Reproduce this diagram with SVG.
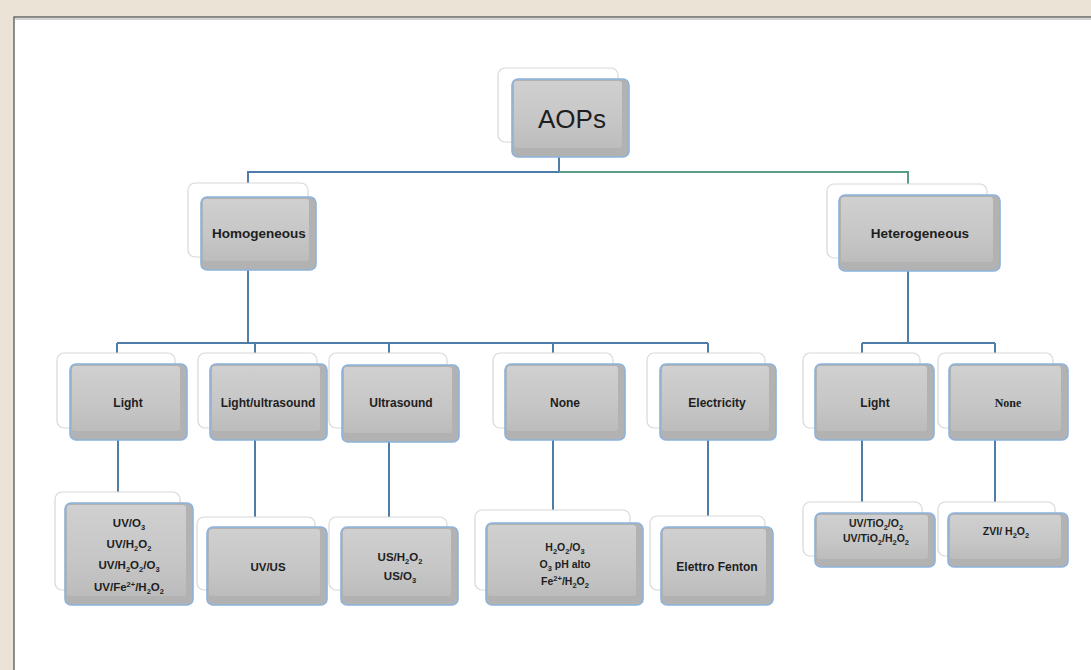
<svg xmlns="http://www.w3.org/2000/svg" width="1091" height="670" viewBox="0 0 1091 670">
<defs>
<linearGradient id="g" x1="0" y1="0" x2="0" y2="1">
<stop offset="0" stop-color="#D0D0D0"/>
<stop offset="0.6" stop-color="#C6C6C6"/>
<stop offset="1" stop-color="#BCBCBC"/>
</linearGradient>
<style>
.back{fill:#FFFFFF;stroke:#D8D8D8;stroke-width:1.2}
.front{fill:#B2B2B2;stroke:#8DB3DC;stroke-width:1.6}
.inner{fill:url(#g)}
.c{fill:none;stroke:#4F7DAA;stroke-width:2}
.cg{fill:none;stroke:#5A9C8A;stroke-width:2}
text{font-family:"Liberation Sans",Arial,sans-serif;font-weight:bold;fill:#1E1E1E;text-anchor:middle}
.t1{font-size:26px;font-weight:normal}
.t2{font-size:13.5px}
.t3{font-size:12px}
.t4{font-size:11.5px}
.t5{font-size:10.5px}
.s{font-size:7.5px}
</style>
</defs>
<rect x="0" y="0" width="1091" height="670" fill="#EBE3D5"/>
<rect x="14" y="17" width="1100" height="700" fill="#FFFFFF" stroke="#4A4A4A" stroke-width="1.2"/>
<line x1="15" y1="19" x2="1091" y2="19" stroke="#A8A8A8" stroke-width="1"/>

<g id="connectors">
<path class="c" d="M559 157V172M247 172H559M248 172V197"/>
<path class="cg" d="M559 172H908V195"/>
<path class="c" d="M248 270V343M117 343H708M117 343V364M255 343V364M389 343V365M553 343V364M708 343V364"/>
<path class="c" d="M908 271V343M862 343H995M862 343V364M995 343V364"/>
<path class="c" d="M118 440V503M255 440V527M389 442V527M553 440V523M708 440V527M862 440V513M995 440V513"/>
</g>

<g id="aops">
<rect class="back" x="498" y="68" width="120" height="74" rx="7"/>
<rect class="front" x="512" y="79" width="117" height="78" rx="6"/>
<rect class="inner" x="514" y="81" width="108" height="67" rx="3"/>
<text class="t1" x="572" y="128">AOPs</text>
</g>

<g id="homogeneous">
<rect class="back" x="188" y="183" width="120" height="74" rx="7"/>
<rect class="front" x="201" y="197" width="115" height="73" rx="6"/>
<rect class="inner" x="203" y="199" width="106" height="62" rx="3"/>
<text class="t2" x="259" y="238">Homogeneous</text>
</g>

<g id="heterogeneous">
<rect class="back" x="827" y="184" width="160" height="74" rx="7"/>
<rect class="front" x="839" y="195" width="161" height="76" rx="6"/>
<rect class="inner" x="841" y="197" width="152" height="65" rx="3"/>
<text class="t2" x="920" y="238">Heterogeneous</text>
</g>

<g id="light">
<rect class="back" x="57" y="353" width="118" height="75" rx="7"/>
<rect class="front" x="70" y="364" width="117" height="76" rx="6"/>
<rect class="inner" x="72" y="366" width="108" height="65" rx="3"/>
<text class="t3" x="128" y="407">Light</text>
</g>

<g id="light-ultrasound">
<rect class="back" x="198" y="353" width="119" height="75" rx="7"/>
<rect class="front" x="210" y="364" width="117" height="76" rx="6"/>
<rect class="inner" x="212" y="366" width="108" height="65" rx="3"/>
<text class="t3" x="268" y="407">Light/ultrasound</text>
</g>

<g id="ultrasound">
<rect class="back" x="329" y="353" width="118" height="75" rx="7"/>
<rect class="front" x="342" y="365" width="117" height="77" rx="6"/>
<rect class="inner" x="344" y="367" width="108" height="66" rx="3"/>
<text class="t3" x="401" y="407">Ultrasound</text>
</g>

<g id="none">
<rect class="back" x="493" y="353" width="120" height="75" rx="7"/>
<rect class="front" x="505" y="364" width="120" height="76" rx="6"/>
<rect class="inner" x="507" y="366" width="111" height="65" rx="3"/>
<text class="t3" x="565" y="407">None</text>
</g>

<g id="electricity">
<rect class="back" x="647" y="353" width="118" height="75" rx="7"/>
<rect class="front" x="660" y="364" width="116" height="76" rx="6"/>
<rect class="inner" x="662" y="366" width="107" height="65" rx="3"/>
<text class="t3" x="717" y="407">Electricity</text>
</g>

<g id="het-light">
<rect class="back" x="803" y="353" width="117" height="75" rx="7"/>
<rect class="front" x="815" y="364" width="119" height="76" rx="6"/>
<rect class="inner" x="817" y="366" width="110" height="65" rx="3"/>
<text class="t3" x="875" y="407">Light</text>
</g>

<g id="het-none">
<rect class="back" x="938" y="353" width="115" height="75" rx="7"/>
<rect class="front" x="949" y="364" width="119" height="76" rx="6"/>
<rect class="inner" x="951" y="366" width="110" height="65" rx="3"/>
<text class="t3" x="1008" y="407" style="font-family:'Liberation Serif','Times New Roman',serif">None</text>
</g>

<g id="leaf-light">
<rect class="back" x="55" y="492" width="125" height="98" rx="7"/>
<rect class="front" x="65" y="503" width="128" height="102" rx="6"/>
<rect class="inner" x="67" y="505" width="119" height="91" rx="3"/>
<text class="t4" x="129" y="527">UV/O<tspan class="s" dy="3">3</tspan></text>
<text class="t4" x="129" y="548">UV/H<tspan class="s" dy="3">2</tspan><tspan dy="-3">O</tspan><tspan class="s" dy="3">2</tspan></text>
<text class="t4" x="129" y="569">UV/H<tspan class="s" dy="3">2</tspan><tspan dy="-3">O</tspan><tspan class="s" dy="3">2</tspan><tspan dy="-3">/O</tspan><tspan class="s" dy="3">3</tspan></text>
<text class="t4" x="129" y="591">UV/Fe<tspan class="s" dy="-4">2+</tspan><tspan dy="4">/H</tspan><tspan class="s" dy="3">2</tspan><tspan dy="-3">O</tspan><tspan class="s" dy="3">2</tspan></text>
</g>

<g id="leaf-uvus">
<rect class="back" x="197" y="517" width="118" height="73" rx="7"/>
<rect class="front" x="207" y="527" width="120" height="78" rx="6"/>
<rect class="inner" x="209" y="529" width="111" height="67" rx="3"/>
<text class="t4" x="268" y="571">UV/US</text>
</g>

<g id="leaf-us">
<rect class="back" x="329" y="517" width="118" height="73" rx="7"/>
<rect class="front" x="341" y="527" width="117" height="78" rx="6"/>
<rect class="inner" x="343" y="529" width="108" height="67" rx="3"/>
<text class="t4" x="400" y="561">US/H<tspan class="s" dy="3">2</tspan><tspan dy="-3">O</tspan><tspan class="s" dy="3">2</tspan></text>
<text class="t4" x="400" y="580">US/O<tspan class="s" dy="3">3</tspan></text>
</g>

<g id="leaf-none">
<rect class="back" x="475" y="510" width="155" height="80" rx="7"/>
<rect class="front" x="486" y="523" width="157" height="82" rx="6"/>
<rect class="inner" x="488" y="525" width="148" height="71" rx="3"/>
<text class="t5" x="565" y="551">H<tspan class="s" dy="3">2</tspan><tspan dy="-3">O</tspan><tspan class="s" dy="3">2</tspan><tspan dy="-3">/O</tspan><tspan class="s" dy="3">3</tspan></text>
<text class="t5" x="565" y="568">O<tspan class="s" dy="3">3</tspan><tspan dy="-3"> pH alto</tspan></text>
<text class="t5" x="565" y="585">Fe<tspan class="s" dy="-4">2+</tspan><tspan dy="4">/H</tspan><tspan class="s" dy="3">2</tspan><tspan dy="-3">O</tspan><tspan class="s" dy="3">2</tspan></text>
</g>

<g id="leaf-fenton">
<rect class="back" x="650" y="516" width="115" height="74" rx="7"/>
<rect class="front" x="661" y="527" width="112" height="78" rx="6"/>
<rect class="inner" x="663" y="529" width="103" height="67" rx="3"/>
<text class="t3" x="717" y="571">Elettro Fenton</text>
</g>

<g id="leaf-tio2">
<rect class="back" x="803" y="502" width="119" height="54" rx="7"/>
<rect class="front" x="815" y="513" width="120" height="54" rx="6"/>
<rect class="inner" x="817" y="515" width="111" height="44" rx="3"/>
<text class="t5" x="876" y="527">UV/TiO<tspan class="s" dy="3">2</tspan><tspan dy="-3">/O</tspan><tspan class="s" dy="3">2</tspan></text>
<text class="t5" x="876" y="542">UV/TiO<tspan class="s" dy="3">2</tspan><tspan dy="-3">/H</tspan><tspan class="s" dy="3">2</tspan><tspan dy="-3">O</tspan><tspan class="s" dy="3">2</tspan></text>
</g>

<g id="leaf-zvi">
<rect class="back" x="938" y="502" width="117" height="54" rx="7"/>
<rect class="front" x="948" y="513" width="120" height="54" rx="6"/>
<rect class="inner" x="950" y="515" width="111" height="44" rx="3"/>
<text class="t5" x="1006" y="535">ZVI/ H<tspan class="s" dy="3">2</tspan><tspan dy="-3">O</tspan><tspan class="s" dy="3">2</tspan></text>
</g>
</svg>
